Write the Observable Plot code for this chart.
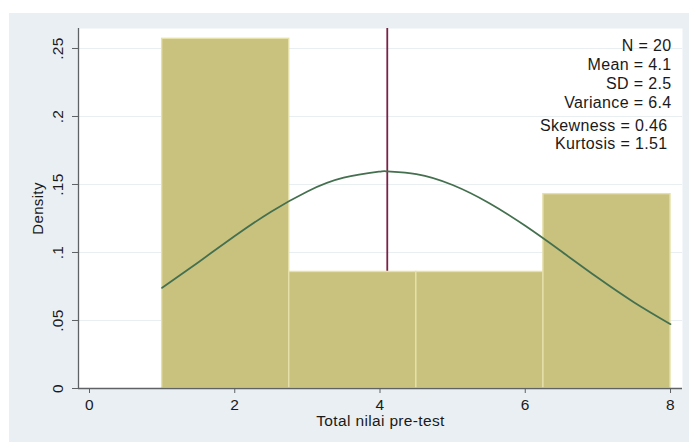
<!DOCTYPE html>
<html>
<head>
<meta charset="utf-8">
<script src="https://cdn.jsdelivr.net/npm/d3@7"></script>
<script src="https://cdn.jsdelivr.net/npm/@observablehq/plot@0.6"></script>
<style>
  html, body { margin: 0; padding: 0; background: #ffffff; }
  #wrap { padding: 13px 0 0 9px; width: 680px; }
  #wrap svg { display: block; background: #e9eff3; }
</style>
</head>
<body>
<div id="wrap"></div>
<script>
// ---- data ----
const binStart = [1, 2.75, 4.5, 6.25];
const binEnd = [2.75, 4.5, 6.25, 8];
const density = [0.2571, 0.0857, 0.0857, 0.1429];

const curveX = [1, 1.5, 2, 2.5, 3, 3.5, 4, 4.1, 4.5, 5, 5.5, 6, 6.5, 7, 7.5, 8];
const curveY = [0.0740, 0.0929, 0.1121, 0.1300, 0.1449, 0.1550, 0.1595, 0.1596, 0.1576, 0.1496, 0.1364, 0.1196, 0.1007, 0.0814, 0.0633, 0.0473];

const meanValue = [4.1];

const statsBox1 = ["N = 20", "Mean = 4.1", "SD = 2.5", "Variance = 6.4"];
const statsBox2 = ["Skewness = 0.46", "Kurtosis = 1.51"];

const xTicks = [0, 2, 4, 6, 8];
const yTicks = [0, 0.05, 0.1, 0.15, 0.2, 0.25];
const yTickLabels = ["0", ".05", ".1", ".15", ".2", ".25"];
const xLabel = ["Total nilai pre-test"];
const yLabel = ["Density"];

// ---- build tables ----
const bars = binStart.map((s, i) => ({x1: s, x2: binEnd[i], density: density[i]}));
const curve = curveX.map((x, i) => ({x, y: curveY[i]}));
const yTickData = yTicks.map((v, i) => ({v, label: yTickLabels[i]}));

const xDomain = [-0.1515, 8.165];
const yDomain = [0, 0.2647];
const axisColor = "#5e6264";
const ink = "#1a1a1a";
const font = "'Liberation Sans', Arial, Helvetica, sans-serif";

const chart = Plot.plot({
  width: 680,
  height: 429,
  marginLeft: 69,
  marginRight: 7,
  marginTop: 15,
  marginBottom: 54,
  style: {fontFamily: font, background: "#e9eff3", color: ink, letterSpacing: "0.35px"},
  x: {domain: xDomain},
  y: {domain: yDomain},
  marks: [
    Plot.frame({fill: "#ffffff", stroke: null}),
    Plot.ruleY(yTicks.filter(v => v > 0), {stroke: "#e9eef1", strokeWidth: 1}),
    Plot.ruleX(meanValue, {stroke: "#7a2245", strokeWidth: 1.8}),
    Plot.rectY(bars, {x1: "x1", x2: "x2", y: "density", fill: "#c9c27f", stroke: "#e6e0a9", strokeWidth: 1.4}),
    Plot.line(curve, {x: "x", y: "y", stroke: "#44704f", strokeWidth: 1.8, curve: "natural"}),
    Plot.ruleX([xDomain[0]], {stroke: axisColor, strokeWidth: 1.3}),
    Plot.ruleY([0], {stroke: axisColor, strokeWidth: 1.3}),
    Plot.axisX({ticks: xTicks, tickSize: 5, tickPadding: 5, fontSize: 15.5, label: null, stroke: axisColor, fill: ink}),
    Plot.axisY({ticks: yTicks, tickSize: 6, tickFormat: () => "", label: null, stroke: axisColor}),
    Plot.text(yTickData, {y: "v", text: "label", frameAnchor: "left", rotate: -90, dx: -20, textAnchor: "middle", lineAnchor: "middle", fontSize: 15.5, fill: ink}),
    Plot.text(yLabel, {frameAnchor: "left", rotate: -90, dx: -40, textAnchor: "middle", lineAnchor: "middle", fontSize: 15, fill: ink}),
    Plot.text(xLabel, {frameAnchor: "bottom", dy: 33, textAnchor: "middle", lineAnchor: "middle", fontSize: 15.5, fill: ink}),
    Plot.text([statsBox1.join("\n")], {frameAnchor: "top-right", dx: -11, dy: 9, textAnchor: "end", lineAnchor: "top", lineHeight: 1.19, fontSize: 16, fill: ink}),
    Plot.text([statsBox2.join("\n")], {frameAnchor: "top-right", dx: -15, dy: 90, textAnchor: "end", lineAnchor: "top", lineHeight: 1.13, fontSize: 16, fill: ink})
  ]
});

document.getElementById("wrap").appendChild(chart);
</script>
</body>
</html>
